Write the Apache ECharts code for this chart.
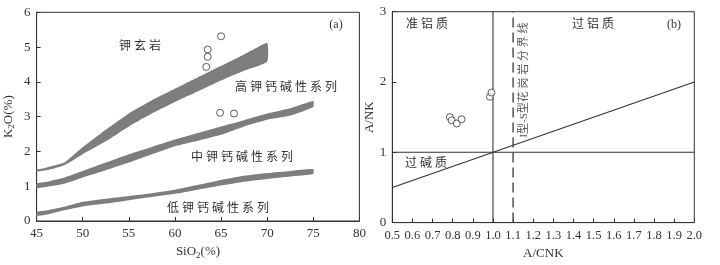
<!DOCTYPE html>
<html><head><meta charset="utf-8">
<script src="https://cdn.jsdelivr.net/npm/echarts@6/dist/echarts.min.js"></script>
<style>html,body{margin:0;padding:0;background:#fff}#c{width:720px;height:265px}</style>
</head><body><div id="c"></div>
<script>
// ---- Data (a) SiO2 vs K2O ----
var bandX1 = [45, 46, 47, 48, 50, 52.5, 55, 57.5, 60, 62.5, 65, 67.5, 70];
var bandHi1 = [1.47, 1.53, 1.6, 1.68, 2.12, 2.62, 3.09, 3.47, 3.8, 4.13, 4.46, 4.79, 5.12];
var bandLo1 = [1.42, 1.46, 1.52, 1.6, 1.92, 2.29, 2.72, 3.09, 3.42, 3.73, 4.04, 4.32, 4.58];
var bandX2 = [45, 46, 48, 50, 52.5, 55, 57.5, 60, 62.5, 65, 67.5, 70, 72.5, 75];
var bandHi2 = [1.08, 1.12, 1.25, 1.44, 1.68, 1.92, 2.13, 2.34, 2.53, 2.72, 2.9, 3.09, 3.24, 3.45];
var bandLo2 = [0.95, 0.98, 1.07, 1.25, 1.46, 1.68, 1.92, 2.15, 2.31, 2.48, 2.72, 2.91, 3.03, 3.28];
var bandX3 = [45, 46, 48, 50, 52.5, 55, 57.5, 60, 62.5, 65, 67.5, 70, 72.5, 75];
var bandHi3 = [0.26, 0.3, 0.41, 0.55, 0.64, 0.72, 0.8, 0.9, 1.04, 1.18, 1.3, 1.38, 1.44, 1.49];
var bandLo3 = [0.15, 0.18, 0.31, 0.42, 0.5, 0.6, 0.69, 0.78, 0.9, 1.02, 1.13, 1.21, 1.28, 1.35];
var samplesA = [[63.4, 4.43], [63.55, 4.72], [63.55, 4.93], [65.0, 5.31], [64.9, 3.11], [66.4, 3.09]];
var xTicksA = [45, 50, 55, 60, 65, 70, 75, 80];
var yTicksA = [0, 1, 2, 3, 4, 5, 6];
// ---- Data (b) A/CNK vs A/NK ----
var samplesB = [[0.786, 1.50], [0.795, 1.455], [0.82, 1.41], [0.844, 1.47], [0.985, 1.79], [0.993, 1.85]];
var lineDiag = [[0.5, 0.5], [2.0, 2.0]];
var lineV1 = [[1.0, 0], [1.0, 3]];
var lineH1 = [[0.5, 1.0], [2.0, 1.0]];
var lineIS = [[1.1, 0], [1.1, 3]];

var SERIF = "'Liberation Serif','DejaVu Serif','Noto Sans CJK SC',serif";
var TXT = '#333';

function bandSeries(xs, hi, lo) {
  return {
    type: 'custom', xAxisIndex: 0, yAxisIndex: 0, silent: true,
    data: [[xs[0], lo[0]]],
    renderItem: function (params, api) {
      var pts = [];
      for (var i = 0; i < xs.length; i++) pts.push(api.coord([xs[i], hi[i]]));
      for (var j = xs.length - 1; j >= 0; j--) pts.push(api.coord([xs[j], lo[j]]));
      return { type: 'polygon', shape: { points: pts, smooth: 0.15 }, style: { fill: '#7d7d7d', stroke: null } };
    }
  };
}
function seg(d, dashed) {
  return { type: 'line', xAxisIndex: 1, yAxisIndex: 1, data: d, symbol: 'none', silent: true,
    lineStyle: { color: dashed ? '#444' : '#333', width: dashed ? 1.4 : 1.1, type: dashed ? [10, 5] : 'solid' } };
}
function axisCommon() {
  return {
    axisLine: { show: true, onZero: false, lineStyle: { color: '#333', width: 1 } },
    axisTick: { show: true, inside: true, length: 4, lineStyle: { color: '#333' } },
    splitLine: { show: false },
    axisLabel: { color: TXT, fontFamily: SERIF, fontSize: 13 }
  };
}
var chart = echarts.init(document.getElementById('c'), null, { renderer: 'canvas' });
var xa = Object.assign(axisCommon(), { type: 'value', gridIndex: 0, min: xTicksA[0], max: xTicksA[xTicksA.length - 1], interval: 5,
  name: '{a|SiO}{s|2}{a|(%)}', nameLocation: 'middle', nameGap: 22,
  nameTextStyle: { rich: { a: { fontFamily: SERIF, fontSize: 13, color: TXT }, s: { fontFamily: SERIF, fontSize: 9, color: TXT, verticalAlign: 'bottom', padding: [8, 0, 0, 0] } } } });
xa.axisLabel.margin = 6;
var ya = Object.assign(axisCommon(), { type: 'value', gridIndex: 0, min: yTicksA[0], max: yTicksA[yTicksA.length - 1], interval: 1,
  name: '{a|K}{s|2}{a|O(%)}', nameLocation: 'middle', nameGap: 20,
  nameTextStyle: { rich: { a: { fontFamily: SERIF, fontSize: 13, color: TXT }, s: { fontFamily: SERIF, fontSize: 9, color: TXT, verticalAlign: 'bottom', padding: [8, 0, 0, 0] } } } });
ya.axisLabel.margin = 6;
var xb = Object.assign(axisCommon(), { type: 'value', gridIndex: 1, min: 0.5, max: 2.0, interval: 0.1,
  name: 'A/CNK', nameLocation: 'middle', nameGap: 24, nameTextStyle: { fontFamily: SERIF, fontSize: 13, color: TXT } });
xb.axisLabel = { color: TXT, fontFamily: SERIF, fontSize: 12.5, margin: 7, formatter: function (v) { return v.toFixed(1); } };
var yb = Object.assign(axisCommon(), { type: 'value', gridIndex: 1, min: 0, max: 3, interval: 1,
  name: 'A/NK', nameLocation: 'middle', nameGap: 16, nameTextStyle: { fontFamily: SERIF, fontSize: 13, color: TXT } });
yb.axisLabel.margin = 6;

var scatterStyle = { color: '#fff', borderColor: '#333', borderWidth: 1 };
function txt(x, y, s, extra, color, size) {
  return Object.assign({ type: 'text', x: x, y: y, style: { text: s, fill: color || TXT, font: (size || 12) + 'px ' + SERIF, textAlign: 'center', textVerticalAlign: 'middle' } }, extra || {});
}
chart.setOption({
  animation: false,
  grid: [
    { left: 36.6, right: 360.6, top: 12.3, bottom: 40.7, show: true, borderColor: '#333', borderWidth: 1, backgroundColor: 'transparent' },
    { left: 392.3, right: 25.7, top: 11.7, bottom: 41.7, show: true, borderColor: '#333', borderWidth: 1, backgroundColor: 'transparent' }
  ],
  xAxis: [xa, xb],
  yAxis: [ya, yb],
  series: [
    bandSeries(bandX1, bandHi1, bandLo1),
    bandSeries(bandX2, bandHi2, bandLo2),
    bandSeries(bandX3, bandHi3, bandLo3),
    { type: 'scatter', xAxisIndex: 0, yAxisIndex: 0, data: samplesA, symbol: 'circle', symbolSize: 7, itemStyle: scatterStyle },
    seg(lineDiag), seg(lineV1), seg(lineH1), seg(lineIS, true),
    { type: 'scatter', xAxisIndex: 1, yAxisIndex: 1, data: samplesB, symbol: 'circle', symbolSize: 7, itemStyle: scatterStyle, z: 5 }
  ],
  graphic: [
    txt(140, 47, '钾 玄 岩'),
    txt(286, 88, '高 钾 钙 碱 性 系 列'),
    txt(242, 158, '中 钾 钙 碱 性 系 列'),
    txt(218, 209, '低 钾 钙 碱 性 系 列'),
    txt(336, 25, '(a)'),
    txt(427, 25, '准 铝 质'),
    txt(593, 25, '过 铝 质'),
    txt(426, 164, '过 碱 质'),
    txt(674, 25, '(b)'),
    txt(524, 80, 'I型-S型花 岗 岩 分 界 线', { rotation: Math.PI / 2 }, '#555', 11)
  ]
});
</script></body></html>
